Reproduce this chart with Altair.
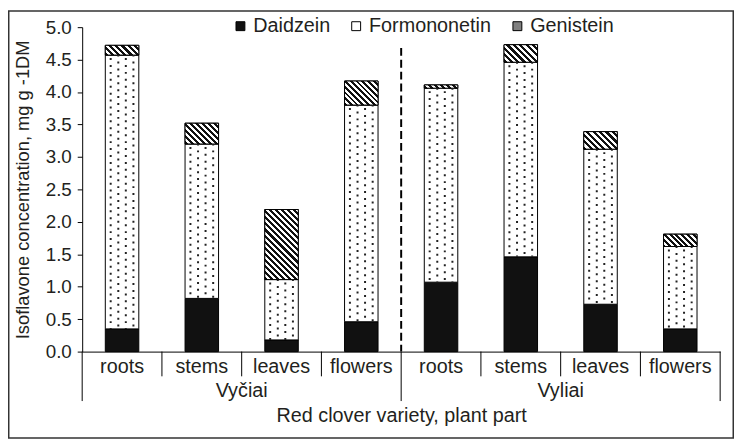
import math
import altair as alt
import pandas as pd

# ---- data ----
varieties = ["Vyčiai", "Vyliai"]
parts = ["roots", "stems", "leaves", "flowers"]
series = ["Daidzein", "Formononetin", "Genistein"]
daidzein = [0.35, 0.82, 0.18, 0.46, 1.07, 1.46, 0.73, 0.35]
formononetin = [4.22, 2.38, 0.93, 3.34, 2.99, 3.00, 2.39, 1.27]
genistein = [0.15, 0.32, 1.08, 0.37, 0.05, 0.27, 0.27, 0.19]
y_ticks = [0.0, 0.5, 1.0, 1.5, 2.0, 2.5, 3.0, 3.5, 4.0, 4.5, 5.0]
divider_top = 4.68

# ---- layout / style ----
W, H = 645, 328
YMAX = 5.0
BAND = 0.42
FONT = "Liberation Sans"
TXT = "#231f20"
FS = 20

keys = [f"{v}|{p}" for v in varieties for p in parts]

rows = []
for i, k in enumerate(keys):
    base = 0.0
    for s, vals in zip(series, [daidzein, formononetin, genistein]):
        rows.append(dict(key=k, series=s, y0=base, y1=base + vals[i]))
        base += vals[i]
df = pd.DataFrame(rows)

xscale = alt.Scale(domain=keys, paddingInner=0, paddingOuter=0)
xaxis = alt.Axis(
    labelExpr="split(datum.label, '|')[1]", ticks=False, domainColor="black",
    labelFont=FONT, labelFontSize=FS, labelColor=TXT, labelPadding=5, labelAngle=0,
    title="Red clover variety, plant part", titleFont=FONT, titleFontSize=FS,
    titleFontWeight="normal", titleColor=TXT, titleY=55, titleBaseline="top",
)
yscale = alt.Scale(domain=[0, YMAX], nice=False)
yaxis = alt.Axis(
    values=y_ticks, format=".1f", tickSize=5, tickColor="black", domainColor="black",
    grid=False, labelFont=FONT, labelFontSize=19, labelColor=TXT, labelPadding=6,
    title="Isoflavone concentration, mg g -1DM", titleFont=FONT, titleFontSize=18.5,
    titleFontWeight="normal", titleColor=TXT, titlePadding=13,
)


def X(**kw):
    return alt.X("key:N", scale=xscale, axis=xaxis, **kw)


def Y(field):
    return alt.Y(f"{field}:Q", scale=yscale, axis=yaxis)


legend = alt.Legend(
    title=None, orient="none", legendX=150, legendY=-11, direction="horizontal",
    symbolType="square", symbolSize=81, symbolStrokeColor="black", symbolStrokeWidth=1,
    labelFont=FONT, labelFontSize=FS, labelColor=TXT, labelOffset=3, columnPadding=16,
    padding=0,
)

layers = []

bars = alt.Chart(df).mark_bar(width={"band": BAND}, stroke="black", strokeWidth=1).encode(
    x=X(), y=Y("y1"), y2="y0:Q",
    fill=alt.Fill("series:N", scale=alt.Scale(domain=series, range=["#111111", "#ffffff", "#808080"]),
                  legend=legend),
)
layers.append(bars)


def hatch(w, h, period=4.3):
    a = (w + h) / (w * w + h * h)
    n = max(1, round((w + h) / math.sqrt(2) / period))
    stops = []
    for j in range(n):
        s, m, e = j / n, (j + 0.5) / n, (j + 1) / n
        stops += [
            {"offset": s, "color": "#111111"},
            {"offset": m, "color": "#111111"},
            {"offset": m, "color": "#ffffff"},
            {"offset": e, "color": "#ffffff"},
        ]
    return {"gradient": "linear", "x1": 0, "y1": 1, "x2": a * w, "y2": 1 - a * h, "stops": stops}


bar_w = BAND * W / len(keys)
gen = df[df.series == "Genistein"]
for i, k in enumerate(keys):
    h = genistein[i] * H / YMAX
    layers.append(
        alt.Chart(gen[gen.key == k]).mark_bar(
            width={"band": BAND}, fill=hatch(bar_w, h), stroke="black", strokeWidth=1
        ).encode(x=X(), y=Y("y1"), y2="y0:Q")
    )

form = df[df.series == "Formononetin"]
for dx, off in [(-11.5, 4), (-3.8, 0.5), (3.8, 4), (11.5, 0.5)]:
    layers.append(
        alt.Chart(form).mark_rule(
            xOffset=dx, strokeDash=[2, 5], strokeDashOffset=off, strokeWidth=2, color="#222222"
        ).encode(x=X(), y=Y("y1"), y2="y0:Q")
    )

div_df = pd.DataFrame({"key": ["Vyliai|roots"], "top": [divider_top], "bottom": [0.0]})
layers.append(
    alt.Chart(div_df).mark_rule(strokeDash=[8, 4], strokeWidth=2, color="black").encode(
        x=X(bandPosition=0), y=Y("top"), y2="bottom:Q"
    )
)

short_sep = pd.DataFrame({"key": [f"{v}|{p}" for v in varieties for p in parts[1:]]})
layers.append(
    alt.Chart(short_sep).mark_rule(color="black", strokeWidth=1).encode(
        x=X(bandPosition=0), y=alt.value(H), y2=alt.value(H + 25)
    )
)
long_sep = pd.DataFrame({"key": [f"{v}|{parts[0]}" for v in varieties]})
layers.append(
    alt.Chart(long_sep).mark_rule(color="black", strokeWidth=1).encode(
        x=X(bandPosition=0), y=alt.value(H), y2=alt.value(H + 50)
    )
)
end_sep = pd.DataFrame({"key": [f"{varieties[-1]}|{parts[-1]}"]})
layers.append(
    alt.Chart(end_sep).mark_rule(color="black", strokeWidth=1).encode(
        x=X(bandPosition=1), y=alt.value(H), y2=alt.value(H + 50)
    )
)

grp = pd.DataFrame({"key": [f"{v}|leaves" for v in varieties], "label": varieties})
layers.append(
    alt.Chart(grp).mark_text(font=FONT, fontSize=FS, color=TXT, baseline="middle", align="center").encode(
        x=X(bandPosition=0), y=alt.value(H + 40), text="label:N"
    )
)

frame = pd.DataFrame({"k": [0]})
layers.append(
    alt.Chart(frame).mark_rect(fillOpacity=0, stroke="#333333", strokeWidth=1.5).encode(
        x=alt.value(-74.25), x2=alt.value(W + 13.25), y=alt.value(-16.25), y2=alt.value(H + 87.25)
    )
)

chart = alt.layer(*layers).properties(
    width=W, height=H,
    padding={"left": 75, "top": 17, "right": 14, "bottom": 88},
    autosize="none", background="white",
).configure_view(strokeWidth=0)

chart.save("out.html", embed_options={"renderer": "svg", "actions": False})
